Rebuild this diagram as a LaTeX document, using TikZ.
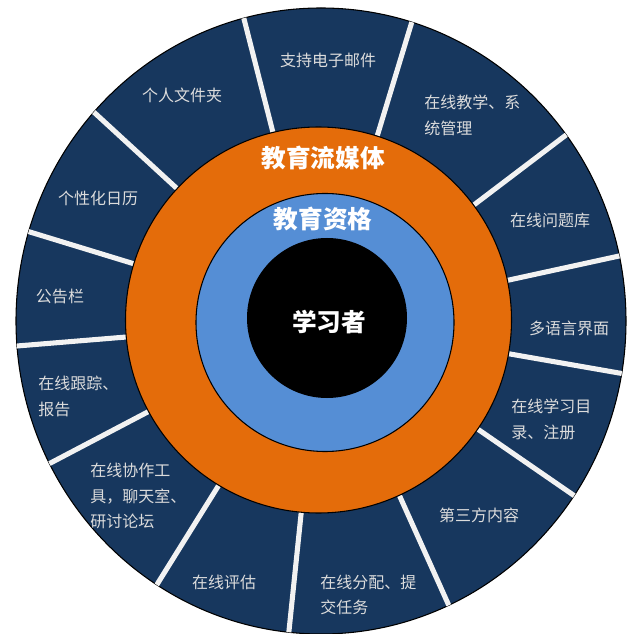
\documentclass[tikz,border=0pt]{standalone}
\usepackage{fontspec}
\setmainfont{Noto Sans CJK SC}
\usetikzlibrary{calc}
\definecolor{navy}{HTML}{17375E}
\definecolor{media}{HTML}{E46C0A}
\definecolor{qual}{HTML}{558ED5}
\definecolor{spokegray}{HTML}{F2F2F2}
\definecolor{labelgray}{HTML}{DCDCDC}
\begin{document}
\begin{tikzpicture}[x=0.75pt,y=0.75pt,
  every node/.style={inner sep=0pt},
  ring/.style={draw=black,line width=0.8pt},
  spoke/.style={spokegray,line width=3.8pt},
  item/.style={text=labelgray,align=left,font=\fontsize{12}{19}\selectfont},
  core/.style={text=white,font=\fontsize{18.5}{22}\selectfont\bfseries}]
	\useasboundingbox (0,0) rectangle (635,-634);
	\coordinate (c) at (321,-321);

	\filldraw[ring,fill=navy] (c) ellipse (305 and 313);
	\begin{scope}
		\clip (c) ellipse (305 and 313);
		\foreach \a in {104.3,73.1,37.2,12.3,-9.9,-34.6,-65.8,-95.9,-121.9,-152.3,-175.3,163,137.4}
			\draw[spoke] ($(c)+(\a:150)$) -- ($(c)+(\a:340)$);
	\end{scope}

	\filldraw[ring,fill=media] (318.5,-320) circle (193);
	\filldraw[ring,fill=qual] (325,-322.5) circle (129);
	\fill[black] (327,-318) circle (80);

	\node[core] (media) at (323,-158) {教育流媒体};
	\node[core] (qual) at (323,-219) {教育资格};
	\node[core] (learner) at (329,-322) {学习者};

	\node[item] (mail) at (328,-60) {支持电子邮件};
	\node[item,anchor=west] (teach) at (424,-115.5) {在线教学、系\\统管理};
	\node[item] (bank) at (550,-220) {在线问题库};
	\node[item] (lang) at (569,-328) {多语言界面};
	\node[item,anchor=west] (catalog) at (511,-419.5) {在线学习目\\录、注册};
	\node[item] (third) at (479,-515) {第三方内容};
	\node[item,anchor=west] (assign) at (320,-595) {在线分配、提\\交任务};
	\node[item] (assess) at (224,-582) {在线评估};
	\node[item,anchor=west] (collab) at (90,-496) {在线协作工\\具，聊天室、\\研讨论坛};
	\node[item,anchor=west] (track) at (38,-396.5) {在线跟踪、\\报告};
	\node[item] (board) at (60,-296) {公告栏};
	\node[item] (calendar) at (98,-198) {个性化日历};
	\node[item] (folder) at (182,-95) {个人文件夹};
\end{tikzpicture}
\end{document}
